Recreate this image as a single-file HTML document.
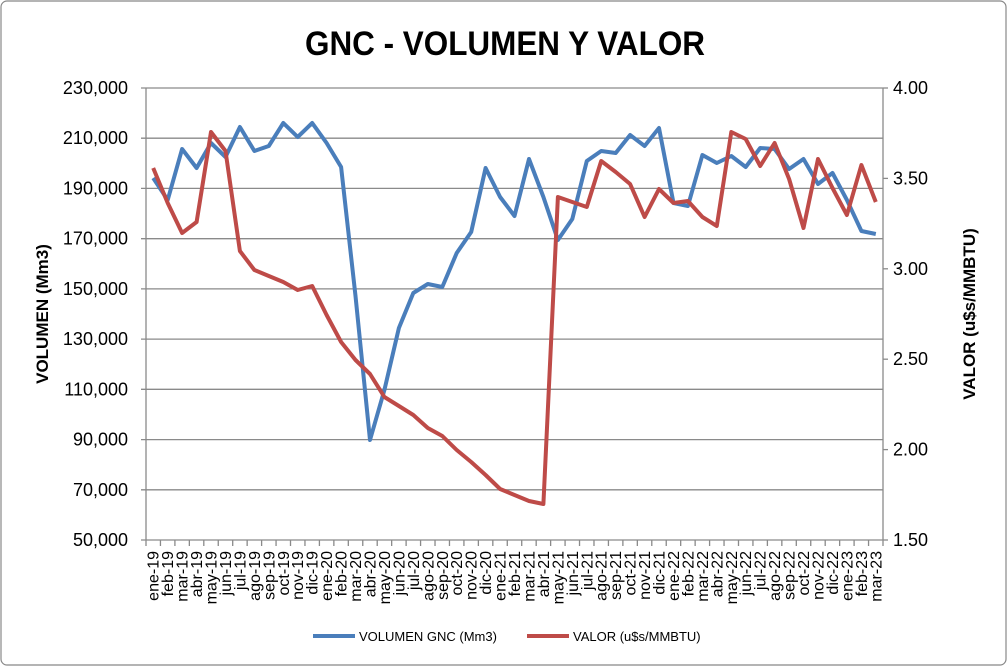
<!DOCTYPE html>
<html><head><meta charset="utf-8"><style>
html,body{margin:0;padding:0;background:#fff}
svg{display:block;font-family:"Liberation Sans",Arial,sans-serif}
</style></head><body>
<svg width="1008" height="667" viewBox="0 0 1008 667" xmlns="http://www.w3.org/2000/svg">
<rect x="1" y="1" width="1005" height="664" rx="6" fill="#fff" stroke="#888" stroke-width="1.2"/>
<text x="305" y="55" font-size="34" font-weight="bold" textLength="400" lengthAdjust="spacingAndGlyphs">GNC - VOLUMEN Y VALOR</text>
<g stroke="#8a8a8a" stroke-width="1.3">
<line x1="141" y1="88" x2="883" y2="88"/>
<line x1="141" y1="138.2" x2="883" y2="138.2"/>
<line x1="141" y1="188.4" x2="883" y2="188.4"/>
<line x1="141" y1="238.7" x2="883" y2="238.7"/>
<line x1="141" y1="288.9" x2="883" y2="288.9"/>
<line x1="141" y1="339.1" x2="883" y2="339.1"/>
<line x1="141" y1="389.3" x2="883" y2="389.3"/>
<line x1="141" y1="439.6" x2="883" y2="439.6"/>
<line x1="141" y1="489.8" x2="883" y2="489.8"/>
<line x1="141" y1="540" x2="883" y2="540"/>
<line x1="146" y1="88" x2="146" y2="540"/>
<line x1="883" y1="88" x2="883" y2="540"/>
<line x1="883" y1="88" x2="888" y2="88"/>
<line x1="883" y1="178.4" x2="888" y2="178.4"/>
<line x1="883" y1="268.8" x2="888" y2="268.8"/>
<line x1="883" y1="359.2" x2="888" y2="359.2"/>
<line x1="883" y1="449.6" x2="888" y2="449.6"/>
<line x1="883" y1="540" x2="888" y2="540"/>
<line x1="145.35" y1="543" x2="884" y2="543" stroke-width="6" stroke-dasharray="1.3 13.151"/>
</g>
<g font-size="18" text-anchor="end">
<text x="128" y="94">230,000</text>
<text x="128" y="144.2">210,000</text>
<text x="128" y="194.4">190,000</text>
<text x="128" y="244.7">170,000</text>
<text x="128" y="294.9">150,000</text>
<text x="128" y="345.1">130,000</text>
<text x="128" y="395.3">110,000</text>
<text x="128" y="445.6">90,000</text>
<text x="128" y="495.8">70,000</text>
<text x="128" y="546">50,000</text>
</g>
<g font-size="18">
<text x="893" y="94">4.00</text>
<text x="893" y="184.4">3.50</text>
<text x="893" y="274.8">3.00</text>
<text x="893" y="365.2">2.50</text>
<text x="893" y="455.6">2.00</text>
<text x="893" y="546">1.50</text>
</g>
<g font-size="16" text-anchor="end">
<text transform="translate(158.7,551) rotate(-90)">ene-19</text>
<text transform="translate(173.2,551) rotate(-90)">feb-19</text>
<text transform="translate(187.6,551) rotate(-90)">mar-19</text>
<text transform="translate(202.1,551) rotate(-90)">abr-19</text>
<text transform="translate(216.5,551) rotate(-90)">may-19</text>
<text transform="translate(231,551) rotate(-90)">jun-19</text>
<text transform="translate(245.4,551) rotate(-90)">jul-19</text>
<text transform="translate(259.9,551) rotate(-90)">ago-19</text>
<text transform="translate(274.3,551) rotate(-90)">sep-19</text>
<text transform="translate(288.8,551) rotate(-90)">oct-19</text>
<text transform="translate(303.2,551) rotate(-90)">nov-19</text>
<text transform="translate(317.7,551) rotate(-90)">dic-19</text>
<text transform="translate(332.1,551) rotate(-90)">ene-20</text>
<text transform="translate(346.6,551) rotate(-90)">feb-20</text>
<text transform="translate(361,551) rotate(-90)">mar-20</text>
<text transform="translate(375.5,551) rotate(-90)">abr-20</text>
<text transform="translate(389.9,551) rotate(-90)">may-20</text>
<text transform="translate(404.4,551) rotate(-90)">jun-20</text>
<text transform="translate(418.8,551) rotate(-90)">jul-20</text>
<text transform="translate(433.3,551) rotate(-90)">ago-20</text>
<text transform="translate(447.8,551) rotate(-90)">sep-20</text>
<text transform="translate(462.2,551) rotate(-90)">oct-20</text>
<text transform="translate(476.7,551) rotate(-90)">nov-20</text>
<text transform="translate(491.1,551) rotate(-90)">dic-20</text>
<text transform="translate(505.6,551) rotate(-90)">ene-21</text>
<text transform="translate(520,551) rotate(-90)">feb-21</text>
<text transform="translate(534.5,551) rotate(-90)">mar-21</text>
<text transform="translate(548.9,551) rotate(-90)">abr-21</text>
<text transform="translate(563.4,551) rotate(-90)">may-21</text>
<text transform="translate(577.8,551) rotate(-90)">jun-21</text>
<text transform="translate(592.3,551) rotate(-90)">jul-21</text>
<text transform="translate(606.7,551) rotate(-90)">ago-21</text>
<text transform="translate(621.2,551) rotate(-90)">sep-21</text>
<text transform="translate(635.6,551) rotate(-90)">oct-21</text>
<text transform="translate(650.1,551) rotate(-90)">nov-21</text>
<text transform="translate(664.5,551) rotate(-90)">dic-21</text>
<text transform="translate(679,551) rotate(-90)">ene-22</text>
<text transform="translate(693.4,551) rotate(-90)">feb-22</text>
<text transform="translate(707.9,551) rotate(-90)">mar-22</text>
<text transform="translate(722.3,551) rotate(-90)">abr-22</text>
<text transform="translate(736.8,551) rotate(-90)">may-22</text>
<text transform="translate(751.2,551) rotate(-90)">jun-22</text>
<text transform="translate(765.7,551) rotate(-90)">jul-22</text>
<text transform="translate(780.1,551) rotate(-90)">ago-22</text>
<text transform="translate(794.6,551) rotate(-90)">sep-22</text>
<text transform="translate(809,551) rotate(-90)">oct-22</text>
<text transform="translate(823.5,551) rotate(-90)">nov-22</text>
<text transform="translate(838,551) rotate(-90)">dic-22</text>
<text transform="translate(852.4,551) rotate(-90)">ene-23</text>
<text transform="translate(866.9,551) rotate(-90)">feb-23</text>
<text transform="translate(881.3,551) rotate(-90)">mar-23</text>
</g>
<text transform="translate(48,314) rotate(-90)" text-anchor="middle" font-size="17" font-weight="bold">VOLUMEN (Mm3)</text>
<text transform="translate(975,314) rotate(-90)" text-anchor="middle" font-size="17" font-weight="bold">VALOR (u$s/MMBTU)</text>
<polyline fill="none" stroke="#4a7ebb" stroke-width="4" stroke-linejoin="round" points="153.2,178 167.7,200 182.1,149 196.6,168 211,143 225.5,157 239.9,127 254.4,151 268.8,146 283.3,123 297.7,137 312.2,123 326.6,143 341.1,167 355.5,296 370,440 384.4,390 398.9,328 413.3,293 427.8,284 442.3,287 456.7,253 471.2,232 485.6,168 500.1,197 514.5,216 529,159 543.4,197 557.9,240 572.3,219 586.8,161 601.2,151 615.7,153 630.1,135 644.6,146 659,128 673.5,203 687.9,206 702.4,155 716.8,163 731.3,156 745.7,167 760.2,148 774.6,149 789.1,169 803.5,159 818,184 832.5,173 846.9,200 861.4,231 875.8,234"/>
<polyline fill="none" stroke="#be4b48" stroke-width="4" stroke-linejoin="round" points="153.2,168 167.7,203 182.1,233 196.6,222 211,132 225.5,151 239.9,251 254.4,270 268.8,276 283.3,282 297.7,290 312.2,286 326.6,315 341.1,342 355.5,360 370,374 384.4,397 398.9,406 413.3,415 427.8,428 442.3,436 456.7,450 471.2,462 485.6,475 500.1,489 514.5,495 529,501 543.4,504 557.9,197 572.3,202 586.8,207 601.2,161 615.7,172 630.1,184 644.6,217 659,189 673.5,203 687.9,201 702.4,217 716.8,226 731.3,132 745.7,139 760.2,166 774.6,143 789.1,179 803.5,228 818,159 832.5,188 846.9,215 861.4,165 875.8,202"/>
<line x1="313" y1="636" x2="355" y2="636" stroke="#4a7ebb" stroke-width="4"/>
<text x="359" y="641" font-size="13">VOLUMEN GNC (Mm3)</text>
<line x1="527" y1="636" x2="569" y2="636" stroke="#be4b48" stroke-width="4"/>
<text x="573" y="641" font-size="13">VALOR (u$s/MMBTU)</text>
</svg>
</body></html>
